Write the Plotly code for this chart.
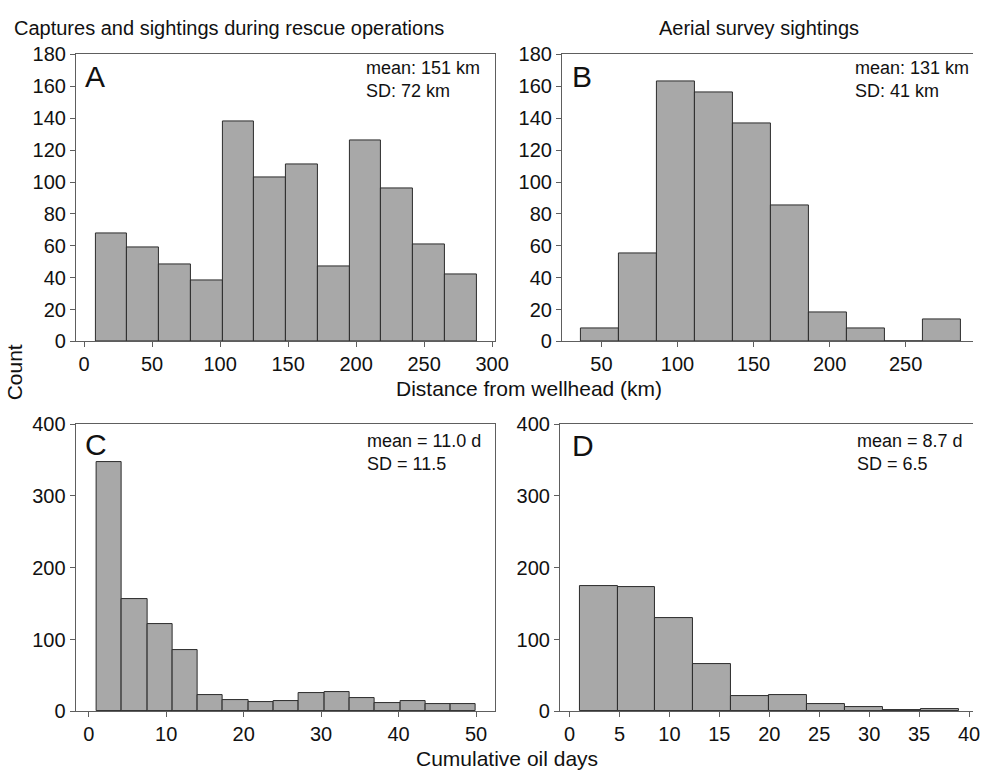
import plotly.graph_objects as go

# ---- data: histogram bins (left edge of first bin, bin width) and counts ----
a_start, a_width = 8.5, 23.33
a_counts = [68, 59, 48, 38, 138, 103, 111, 47, 126, 96, 61, 42]

b_start, b_width = 36.5, 25.0
b_counts = [8, 55, 163, 156, 137, 85, 18, 8, 0, 14]

c_start, c_width = 1.0, 3.267
c_counts = [347, 157, 122, 86, 23, 16, 13, 14, 26, 27, 18, 12, 14, 11, 11]

d_start, d_width = 1.0, 3.8
d_counts = [174, 173, 130, 66, 22, 23, 10, 6, 2, 3]

panel_titles = ["Captures and sightings during rescue operations", "Aerial survey sightings"]
stats_text = {
    "A": "mean: 151 km<br>SD: 72 km",
    "B": "mean: 131 km<br>SD: 41 km",
    "C": "mean = 11.0 d<br>SD = 11.5",
    "D": "mean = 8.7 d<br>SD = 6.5",
}

W, H = 987, 784
FONT = "Liberation Sans, Arial, Helvetica, sans-serif"
BAR_FILL = "#a8a8a8"
BAR_LINE = "#2b2b2b"
FRAME = "#5e5e5e"


def px(x):
    return x / W


def py(y):
    return 1 - y / H


def bars(start, width, counts, xa, ya):
    centers = [start + width * (i + 0.5) for i in range(len(counts))]
    return go.Bar(
        x=centers, y=counts, width=[width] * len(counts),
        marker=dict(color=BAR_FILL, line=dict(color=BAR_LINE, width=1)),
        xaxis=xa, yaxis=ya, showlegend=False, hoverinfo="x+y",
    )


fig = go.Figure()
fig.add_trace(bars(a_start, a_width, a_counts, "x", "y"))
fig.add_trace(bars(b_start, b_width, b_counts, "x2", "y2"))
fig.add_trace(bars(c_start, c_width, c_counts, "x3", "y3"))
fig.add_trace(bars(d_start, d_width, d_counts, "x4", "y4"))

axis_common = dict(
    showgrid=False, zeroline=False, showline=True, linecolor=FRAME, linewidth=1,
    ticks="outside", ticklen=5, tickcolor=FRAME,
    tickfont=dict(family=FONT, size=20, color="#111"),
)

top_dom = [py(340), py(44.7)]
bot_dom = [py(720.7), py(425)]

fig.update_layout(
    width=W, height=H, margin=dict(l=0, r=0, t=0, b=0),
    paper_bgcolor="white", plot_bgcolor="white", bargap=0,
    font=dict(family=FONT, color="#111"),
    xaxis=dict(domain=[px(77), px(502)], range=[-6, 302], tickvals=[0, 50, 100, 150, 200, 250, 300],
               mirror=True, anchor="y", **axis_common),
    yaxis=dict(domain=top_dom, range=[0, 180], dtick=20, mirror=True, anchor="x", **axis_common),
    xaxis2=dict(domain=[px(570), 1.0], range=[24, 294.3], tickvals=[50, 100, 150, 200, 250],
                mirror=True, anchor="y2", **axis_common),
    yaxis2=dict(domain=top_dom, range=[0, 180], dtick=20, anchor="x2", **axis_common),
    xaxis3=dict(domain=[px(76.7), px(501.7)], range=[-1.7, 52.4], tickvals=[0, 10, 20, 30, 40, 50],
                mirror=True, anchor="y3", **axis_common),
    yaxis3=dict(domain=bot_dom, range=[0, 400], dtick=100, mirror=True, anchor="x3", **axis_common),
    xaxis4=dict(domain=[px(568), 1.0], range=[-0.96, 40.4], tickvals=[0, 5, 10, 15, 20, 25, 30, 35, 40],
                mirror=True, anchor="y4", **axis_common),
    yaxis4=dict(domain=bot_dom, range=[0, 400], dtick=100, anchor="x4", **axis_common),
)


def label(text, x, y, size, xanchor="center", yanchor="middle", angle=0, align="center"):
    fig.add_annotation(
        text=text, x=px(x), y=py(y), xref="paper", yref="paper",
        xanchor=xanchor, yanchor=yanchor, showarrow=False, textangle=angle, align=align,
        font=dict(family=FONT, size=size, color="#111"),
    )


# panel headings
label(panel_titles[0], 232, 18, 20)
label(panel_titles[1], 770, 18, 20)

# shared axis titles
label("Distance from wellhead (km)", 537, 388, 21)
label("Cumulative oil days", 514, 769, 21)
label("Count", 15, 372, 21, angle=-90)

# panel letters
label("A", 84, 67, 30, xanchor="left")
label("B", 578, 67, 30, xanchor="left")
label("C", 84, 446, 30, xanchor="left")
label("D", 578, 447, 30, xanchor="left")

# summary statistics
label(stats_text["A"], 369, 70, 18, xanchor="left", align="left")
label(stats_text["B"], 865, 70, 18, xanchor="left", align="left")
label(stats_text["C"], 370, 454, 18, xanchor="left", align="left")
label(stats_text["D"], 867, 454, 18, xanchor="left", align="left")

fig.write_html("out.html")
